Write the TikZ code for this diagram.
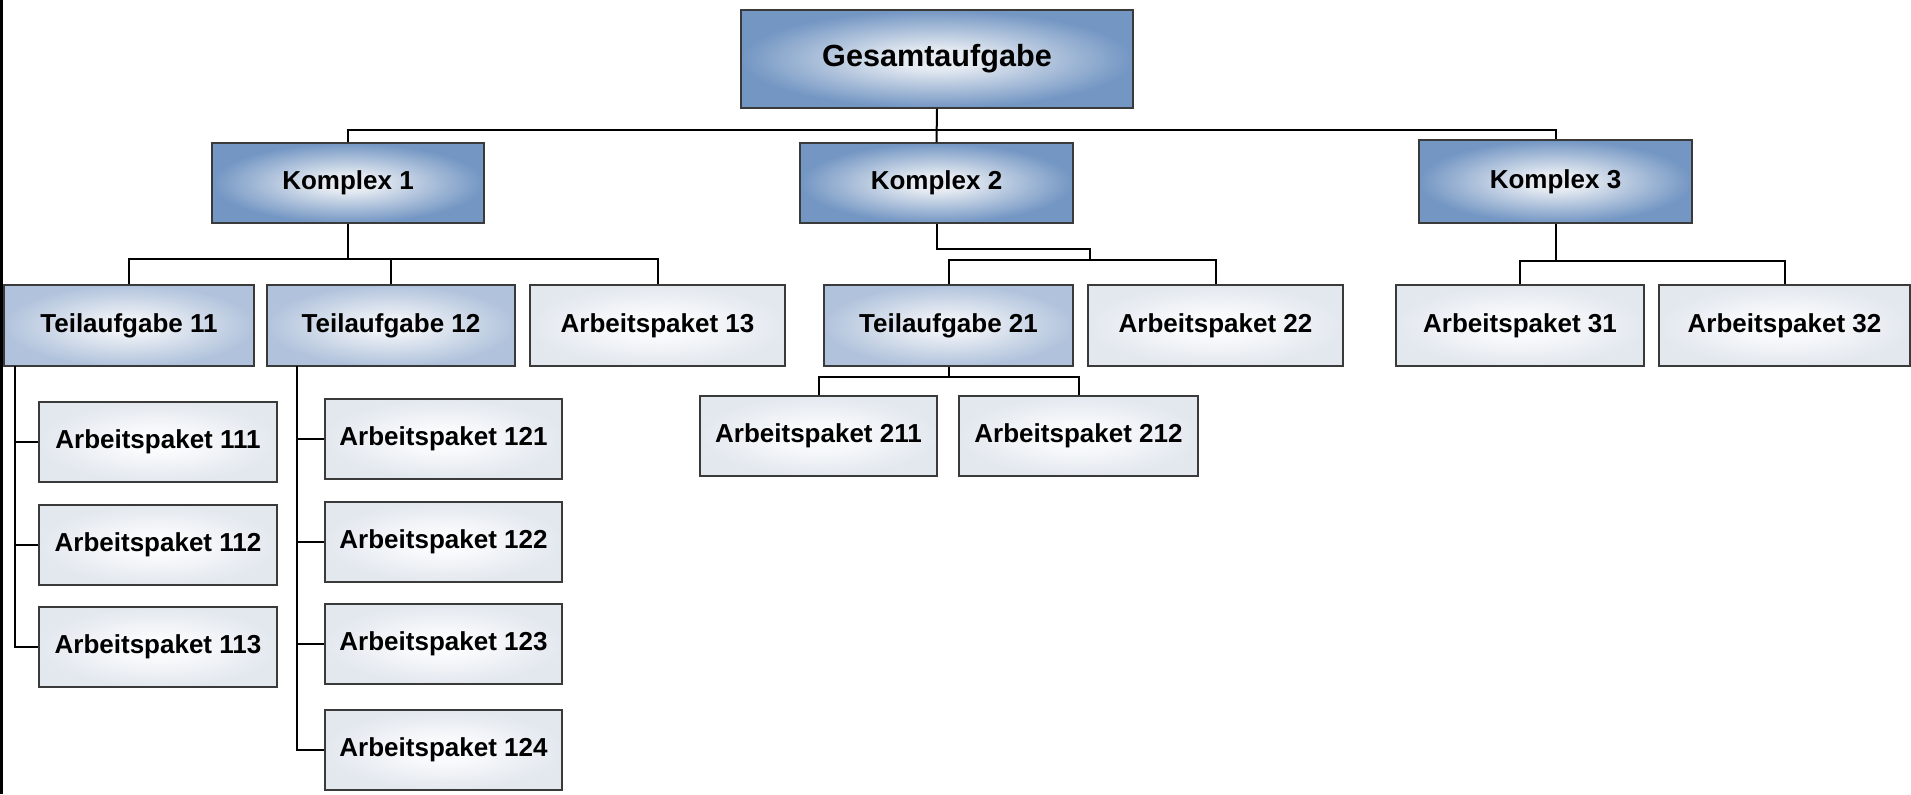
\documentclass[tikz,border=0pt]{standalone}
\usepackage{fontspec}
\setmainfont{Liberation Sans}
\definecolor{dkin}{HTML}{E6EBF2}
\definecolor{dkout}{HTML}{7396C3}
\definecolor{mdin}{HTML}{EEF1F6}
\definecolor{mdout}{HTML}{B1C3DC}
\definecolor{ltin}{HTML}{FBFCFD}
\definecolor{ltout}{HTML}{E3E8EF}
\definecolor{bord}{HTML}{3A3A3A}
\pgfdeclareradialshading{darkshade}{\pgfpoint{0bp}{0bp}}{color(0bp)=(dkin); color(5bp)=(dkin); color(25bp)=(dkout); color(50bp)=(dkout)}
\pgfdeclareradialshading{midshade}{\pgfpoint{0bp}{0bp}}{color(0bp)=(mdin); color(5bp)=(mdin); color(25bp)=(mdout); color(50bp)=(mdout)}
\pgfdeclareradialshading{lightshade}{\pgfpoint{0bp}{0bp}}{color(0bp)=(ltin); color(5bp)=(ltin); color(25bp)=(ltout); color(50bp)=(ltout)}
\begin{document}
\begin{tikzpicture}[x=0.5pt,y=-0.5pt,
  box/.style={draw=bord, line width=0.75pt, inner sep=0pt, minimum height=40pt,
    font=\bfseries\fontsize{13}{15}\selectfont, text=black},
  dark/.style={box, shading=darkshade},
  mid/.style={box, shading=midshade},
  light/.style={box, shading=lightshade},
  conn/.style={draw=black, line width=1pt}]
\useasboundingbox (0,0) rectangle (1911,794);
\fill[black] (0,0) rectangle (3,794);

% level 0
\node[dark, minimum width=196pt, minimum height=49pt, font=\bfseries\fontsize{15.3}{18}\selectfont] (g) at (937,59) {Gesamtaufgabe};
% level 1
\node[dark, minimum width=136pt] (k1) at (348,183) {Komplex 1};
\node[dark, minimum width=136.5pt] (k2) at (936.5,183) {Komplex 2};
\node[dark, minimum width=136.5pt, minimum height=41.5pt] (k3) at (1555.5,181.5) {Komplex 3};
% level 2
\node[mid, minimum width=125pt, minimum height=40.5pt] (t11) at (129,325.5) {Teilaufgabe 11};
\node[mid, minimum width=124pt, minimum height=40.5pt] (t12) at (391,325.5) {Teilaufgabe 12};
\node[light, minimum width=127.5pt, minimum height=40.5pt] (a13) at (657.5,325.5) {Arbeitspaket 13};
\node[mid, minimum width=124.5pt, minimum height=40.5pt] (t21) at (948.5,325.5) {Teilaufgabe 21};
\node[light, minimum width=127.5pt, minimum height=40.5pt] (a22) at (1215.5,325.5) {Arbeitspaket 22};
\node[light, minimum width=124pt, minimum height=40.5pt] (a31) at (1520,325.5) {Arbeitspaket 31};
\node[light, minimum width=125.5pt, minimum height=40.5pt] (a32) at (1784.5,325.5) {Arbeitspaket 32};
% level 3
\node[light, minimum width=119pt] (a111) at (158,442) {Arbeitspaket 111};
\node[light, minimum width=119pt] (a112) at (158,545) {Arbeitspaket 112};
\node[light, minimum width=119pt] (a113) at (158,647) {Arbeitspaket 113};
\node[light, minimum width=118.5pt] (a121) at (443.5,439) {Arbeitspaket 121};
\node[light, minimum width=118.5pt] (a122) at (443.5,542) {Arbeitspaket 122};
\node[light, minimum width=118.5pt] (a123) at (443.5,644) {Arbeitspaket 123};
\node[light, minimum width=118.5pt] (a124) at (443.5,750) {Arbeitspaket 124};
\node[light, minimum width=118.5pt] (a211) at (818.5,436) {Arbeitspaket 211};
\node[light, minimum width=119.5pt] (a212) at (1078.5,436) {Arbeitspaket 212};

% connectors
\coordinate (b0) at (937,130);
\draw[conn] (g.south) -- (k2.north);
\draw[conn] (k1.north) |- (b0) -| (k3.north);

\coordinate (b1) at (348,259);
\draw[conn] (k1.south) -- (b1);
\draw[conn] (t11.north) |- (b1) -| (a13.north);
\draw[conn] (t12.north) -- (t12.north |- b1);

\coordinate (s2) at (1090,249);
\coordinate (b2) at (1090,260);
\draw[conn] (k2.south) |- (s2) -- (b2);
\draw[conn] (t21.north) |- (b2) -| (a22.north);

\coordinate (b3) at (1555.5,261);
\draw[conn] (k3.south) -- (b3);
\draw[conn] (a31.north) |- (b3) -| (a32.north);

\coordinate (c11) at (15,366);
\draw[conn] (c11) |- (a113.west);
\draw[conn] (c11 |- a111.west) -- (a111.west);
\draw[conn] (c11 |- a112.west) -- (a112.west);

\coordinate (c12) at (297,366);
\draw[conn] (c12) |- (a124.west);
\draw[conn] (c12 |- a121.west) -- (a121.west);
\draw[conn] (c12 |- a122.west) -- (a122.west);
\draw[conn] (c12 |- a123.west) -- (a123.west);

\coordinate (b21) at (948.5,377);
\draw[conn] (t21.south) -- (b21);
\draw[conn] (a211.north) |- (b21) -| (a212.north);
\end{tikzpicture}
\end{document}
